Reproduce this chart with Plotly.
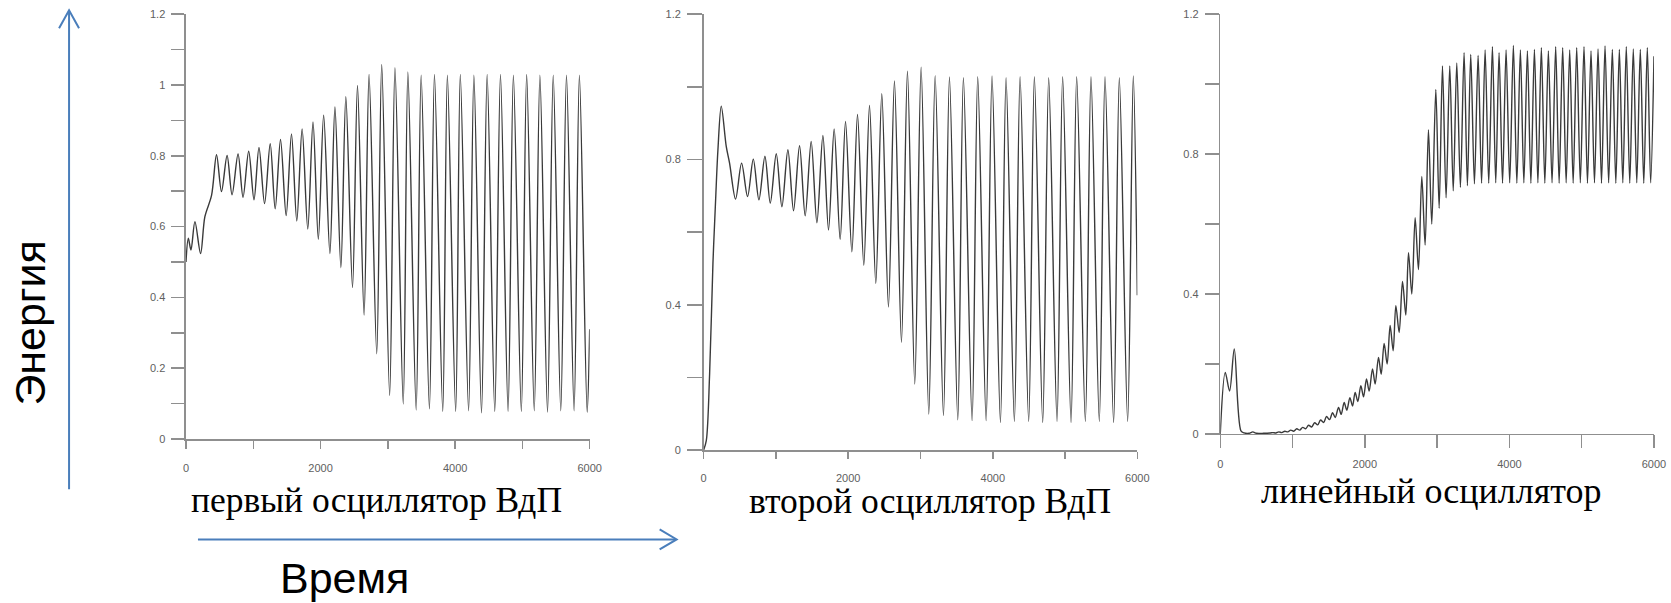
import plotly.graph_objects as go

W, H = 1671, 603

# ---------------- data (time, energy) ----------------
vdp1_points = [
    (0, 0.50), (35, 0.567), (74, 0.534), (133, 0.614), (217, 0.524), (281, 0.628), (380, 0.688),
    (454, 0.803), (528, 0.699), (611, 0.801), (685, 0.690), (774, 0.805), (848, 0.683),
    (932, 0.813), (1011, 0.676), (1085, 0.824), (1168, 0.665), (1252, 0.834), (1326, 0.650),
    (1405, 0.846), (1489, 0.631), (1568, 0.862), (1647, 0.616), (1726, 0.876), (1810, 0.593),
    (1888, 0.896), (1967, 0.564), (2046, 0.915), (2139, 0.524), (2214, 0.938), (2302, 0.484),
    (2376, 0.967), (2475, 0.428), (2549, 0.999), (2647, 0.350), (2721, 1.030), (2835, 0.241),
    (2909, 1.058), (3027, 0.123), (3106, 1.049), (3229, 0.099), (3298, 1.037), (3421, 0.082),
    (3495, 1.028), (3618, 0.085), (3693, 1.030), (3816, 0.078), (3885, 1.028), (4008, 0.078),
    (4077, 1.030), (4200, 0.080), (4279, 1.028), (4392, 0.074), (4476, 1.030), (4589, 0.078),
    (4674, 1.030), (4787, 0.078), (4866, 1.028), (4984, 0.078), (5063, 1.030), (5176, 0.080),
    (5260, 1.028), (5373, 0.076), (5458, 1.028), (5570, 0.080), (5655, 1.028), (5768, 0.080),
    (5847, 1.028), (5962, 0.076), (6000, 0.31),
]

vdp2_points = [
    (0, 0.0), (37, 0.026), (83, 0.210), (129, 0.514), (166, 0.689), (198, 0.827), (244, 0.947),
    (313, 0.836), (359, 0.790), (442, 0.691), (525, 0.790), (608, 0.698), (687, 0.801),
    (765, 0.689), (848, 0.809), (922, 0.680), (1005, 0.816), (1083, 0.670), (1166, 0.827),
    (1244, 0.659), (1327, 0.838), (1405, 0.645), (1488, 0.850), (1567, 0.626), (1650, 0.866),
    (1728, 0.606), (1806, 0.884), (1889, 0.580), (1963, 0.905), (2051, 0.546), (2129, 0.924),
    (2216, 0.509), (2295, 0.949), (2382, 0.459), (2465, 0.981), (2557, 0.394), (2640, 1.016),
    (2737, 0.297), (2820, 1.043), (2921, 0.182), (3009, 1.054), (3115, 0.099), (3203, 1.031),
    (3318, 0.095), (3401, 1.027), (3516, 0.083), (3594, 1.025), (3714, 0.081), (3792, 1.028),
    (3908, 0.081), (3990, 1.030), (4106, 0.076), (4184, 1.025), (4299, 0.079), (4378, 1.028),
    (4497, 0.079), (4576, 1.028), (4691, 0.076), (4774, 1.025), (4889, 0.079), (4967, 1.028),
    (5083, 0.076), (5161, 1.028), (5281, 0.079), (5359, 1.028), (5474, 0.079), (5553, 1.028),
    (5672, 0.076), (5751, 1.025), (5866, 0.079), (5944, 1.030), (6000, 0.426),
]

lin_points = [
    (0, 0.0), (69, 0.176), (129, 0.123), (194, 0.243), (286, 0.009), (330, 0.003), (400, 0.002),
    (450, 0.006), (500, 0.002), (600, 0.002), (690, 0.003), (728, 0.004), (769, 0.003),
    (810, 0.006), (851, 0.004), (893, 0.008), (934, 0.006), (975, 0.011), (1016, 0.008),
    (1058, 0.015), (1099, 0.011), (1140, 0.019), (1181, 0.015), (1222, 0.025), (1264, 0.020),
    (1305, 0.032), (1347, 0.026), (1388, 0.040), (1430, 0.033), (1470, 0.050), (1512, 0.041),
    (1553, 0.061), (1590, 0.047), (1636, 0.076), (1673, 0.056), (1714, 0.090), (1751, 0.068),
    (1793, 0.104), (1830, 0.080), (1866, 0.119), (1903, 0.093), (1945, 0.138), (1982, 0.106),
    (2023, 0.157), (2060, 0.123), (2106, 0.186), (2143, 0.143), (2189, 0.219), (2226, 0.171),
    (2267, 0.259), (2309, 0.200), (2350, 0.310), (2392, 0.238), (2429, 0.367), (2475, 0.290),
    (2521, 0.436), (2567, 0.340), (2604, 0.518), (2650, 0.400), (2696, 0.618), (2742, 0.470),
    (2788, 0.736), (2834, 0.540), (2880, 0.870), (2926, 0.600), (2982, 0.985), (3028, 0.645),
    (3074, 1.052), (3124, 0.675), (3175, 1.052), (3223, 0.695), (3272, 1.061), (3322, 0.705),
    (3373, 1.090), (3419, 0.710), (3465, 1.085), (3516, 0.715), (3567, 1.082), (3615, 0.717),
    (3664, 1.098), (3714, 0.717), (3765, 1.107), (3811, 0.718), (3857, 1.090), (3905, 0.717),
    (3954, 1.098), (4004, 0.718), (4055, 1.111), (4103, 0.717), (4152, 1.098), (4200, 0.718),
    (4249, 1.095), (4297, 0.717), (4346, 1.099), (4394, 0.718), (4442, 1.104), (4490, 0.717),
    (4539, 1.095), (4590, 0.718), (4640, 1.107), (4688, 0.717), (4737, 1.104), (4785, 0.718),
    (4834, 1.098), (4882, 0.717), (4931, 1.104), (4981, 0.718), (5032, 1.107), (5080, 0.717),
    (5129, 1.095), (5177, 0.718), (5226, 1.101), (5274, 0.717), (5323, 1.109), (5373, 0.718),
    (5424, 1.099), (5472, 0.717), (5521, 1.099), (5569, 0.718), (5617, 1.107), (5665, 0.717),
    (5714, 1.101), (5762, 0.718), (5811, 1.099), (5859, 0.717), (5908, 1.104), (5954, 0.718),
    (6000, 1.08),
]

x_ticks = [0, 1000, 2000, 3000, 4000, 5000, 6000]
x_labels = ["0", "", "2000", "", "4000", "", "6000"]
y1_ticks = [0, 0.1, 0.2, 0.3, 0.4, 0.5, 0.6, 0.7, 0.8, 0.9, 1.0, 1.1, 1.2]
y1_labels = ["0", "", "0.2", "", "0.4", "", "0.6", "", "0.8", "", "1", "", "1.2"]
y23_ticks = [0, 0.2, 0.4, 0.6, 0.8, 1.0, 1.2]
y23_labels = ["0", "", "0.4", "", "0.8", "", "1.2"]

captions = ["первый осциллятор ВдП", "второй осциллятор ВдП", "линейный осциллятор"]
y_title = "Энергия"
x_title = "Время"

# ---------------- helpers (target pixel -> paper) ----------------
SX, OX = 0.9917, 2.9
SY, OY = 0.976, 6.8

def fx(x):
    return ((x - OX) / SX) / W

def fy(y):
    return 1 - ((y - OY) / SY) / H

line_col = "#3a3a3a"
axis_col = "#8f8f8f"
tick_font = dict(family="Liberation Sans, Arial, sans-serif", size=11, color="#606060")
arrow_col = "#4a7ebb"

fig = go.Figure()
for i, pts in enumerate([vdp1_points, vdp2_points, lin_points]):
    t = [p[0] for p in pts]
    e = [p[1] for p in pts]
    suffix = "" if i == 0 else str(i + 1)
    fig.add_trace(go.Scatter(
        x=t, y=e, mode="lines", xaxis="x" + suffix, yaxis="y" + suffix,
        line=dict(color=line_col, width=1.4, shape="spline", smoothing=0.9),
        showlegend=False, hoverinfo="skip",
    ))

panels = [
    dict(x0=186, x1=590, y0=15, y1=438, yt=y1_ticks, yl=y1_labels, xlen=8, xoff=10, ylen=13),
    dict(x0=704, x1=1138, y0=15, y1=449, yt=y23_ticks, yl=y23_labels, xlen=7, xoff=10, ylen=15),
    dict(x0=1221, x1=1655, y0=15, y1=433, yt=y23_ticks, yl=y23_labels, xlen=13, xoff=6, ylen=14),
]

layout = dict(
    width=W, height=H, margin=dict(l=0, r=0, t=0, b=0),
    paper_bgcolor="white", plot_bgcolor="white", showlegend=False,
)
for i, p in enumerate(panels):
    suffix = "" if i == 0 else str(i + 1)
    layout["xaxis" + suffix] = dict(
        domain=[fx(p["x0"]), fx(p["x1"])], anchor="y" + suffix, range=[0, 6000],
        tickmode="array", tickvals=x_ticks, ticktext=x_labels,
        ticks="outside", ticklen=p["xlen"], tickwidth=1.5, tickcolor=axis_col,
        showline=True, linecolor=axis_col, linewidth=1.5,
        showgrid=False, zeroline=False, tickfont=tick_font,
        ticklabelstandoff=p["xoff"], fixedrange=True,
    )
    layout["yaxis" + suffix] = dict(
        domain=[fy(p["y1"]), fy(p["y0"])], anchor="x" + suffix, range=[0, 1.2],
        tickmode="array", tickvals=p["yt"], ticktext=p["yl"],
        ticks="outside", ticklen=p["ylen"], tickwidth=1.5, tickcolor=axis_col,
        showline=True, linecolor=axis_col, linewidth=1.5,
        showgrid=False, zeroline=False, tickfont=tick_font,
        ticklabelstandoff=4, fixedrange=True,
    )
fig.update_layout(**layout)

# ---------------- captions and axis names ----------------
cap_pos = [(189, 499, 35.5), (747, 500, 35.5), (1260, 490, 36)]
for txt, (cx, cy, fs) in zip(captions, cap_pos):
    fig.add_annotation(text=txt, x=fx(cx), y=fy(cy), xref="paper", yref="paper",
                       xanchor="left", yanchor="middle", showarrow=False,
                       font=dict(family="Liberation Serif, Times New Roman, serif",
                                 size=fs, color="black"))

sans = dict(family="Liberation Sans, Arial, sans-serif", size=43, color="black")
fig.add_annotation(text=x_title, x=fx(345), y=fy(576), xref="paper", yref="paper",
                   xanchor="center", yanchor="middle", showarrow=False, font=sans)
fig.add_annotation(text=y_title, x=fx(29), y=fy(323), xref="paper", yref="paper",
                   xanchor="center", yanchor="middle", showarrow=False, font=sans,
                   textangle=-90)

# ---------------- arrows (shapes) ----------------
def path(points):
    return "M " + " L ".join(f"{fx(a):.5f},{fy(b):.5f}" for a, b in points)

arrow_line = dict(color=arrow_col, width=2)
fig.add_shape(type="line", xref="paper", yref="paper",
              x0=fx(69), y0=fy(488), x1=fx(69), y1=fy(12), line=arrow_line)
fig.add_shape(type="path", xref="paper", yref="paper",
              path=path([(59, 29), (69, 11), (79, 29)]), line=arrow_line)
fig.add_shape(type="line", xref="paper", yref="paper",
              x0=fx(198), y0=fy(538), x1=fx(676), y1=fy(538), line=arrow_line)
fig.add_shape(type="path", xref="paper", yref="paper",
              path=path([(660, 528), (677, 538), (660, 548)]), line=arrow_line)

fig.write_html(
    "out.html",
    config={"displayModeBar": False, "staticPlot": True},
    post_script="document.body.style.margin='0px';document.body.style.overflow='hidden';",
)
